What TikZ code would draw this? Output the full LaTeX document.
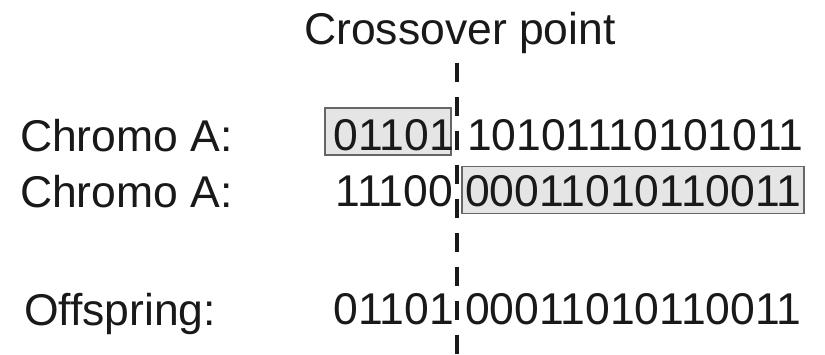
\documentclass[tikz,border=0pt]{standalone}
\usepackage{fontspec}
\setmainfont{Liberation Sans}
\begin{document}
\begin{tikzpicture}[x=1pt,y=1pt,
  txt/.style={inner sep=0pt,outer sep=0pt,font=\fontsize{44.5}{44.5}\selectfont,text=black!90},
  lbl/.style={txt,anchor=base west},
  leftbits/.style={txt,anchor=base east},
  rightbits/.style={txt,anchor=base west},
  selbox/.style={draw=black!60,fill=black!10,line width=1.4pt,inner sep=0pt,minimum height=47pt},
  cut/.style={line width=3.6pt,draw=black!90,dash pattern=on 19pt off 15pt}]
\useasboundingbox (0,0) rectangle (825,-355);
% highlighted boxes
\node[selbox,minimum width=126pt] (boxA) at (388,-131.4) {};
\node[selbox,minimum width=342pt] (boxB) at (633,-190.3) {};
% crossover line
\coordinate (ctop) at (457,-63);
\coordinate (cbot) at (457,-358);
\draw[cut] (ctop) -- (cbot);
% title
\node[txt,anchor=base] (title) at (460,-45) {Crossover point};
% labels
\node[lbl] (lA) at (20,-152) {Chromo A:};
\node[lbl] (lB) at (20,-208) {Chromo A:};
\node[lbl] (lO) at (24,-326) {Offspring:};
% bits
\node[leftbits] (a1) at (454,-151) {01101};
\node[rightbits] (a2) at (467,-151) {10101110101011};
\node[leftbits] (b1) at (453,-207) {11100};
\node[rightbits] (b2) at (465,-207) {00011010110011};
\node[leftbits] (o1) at (454,-325) {01101};
\node[rightbits] (o2) at (465,-325) {00011010110011};
\end{tikzpicture}
\end{document}
